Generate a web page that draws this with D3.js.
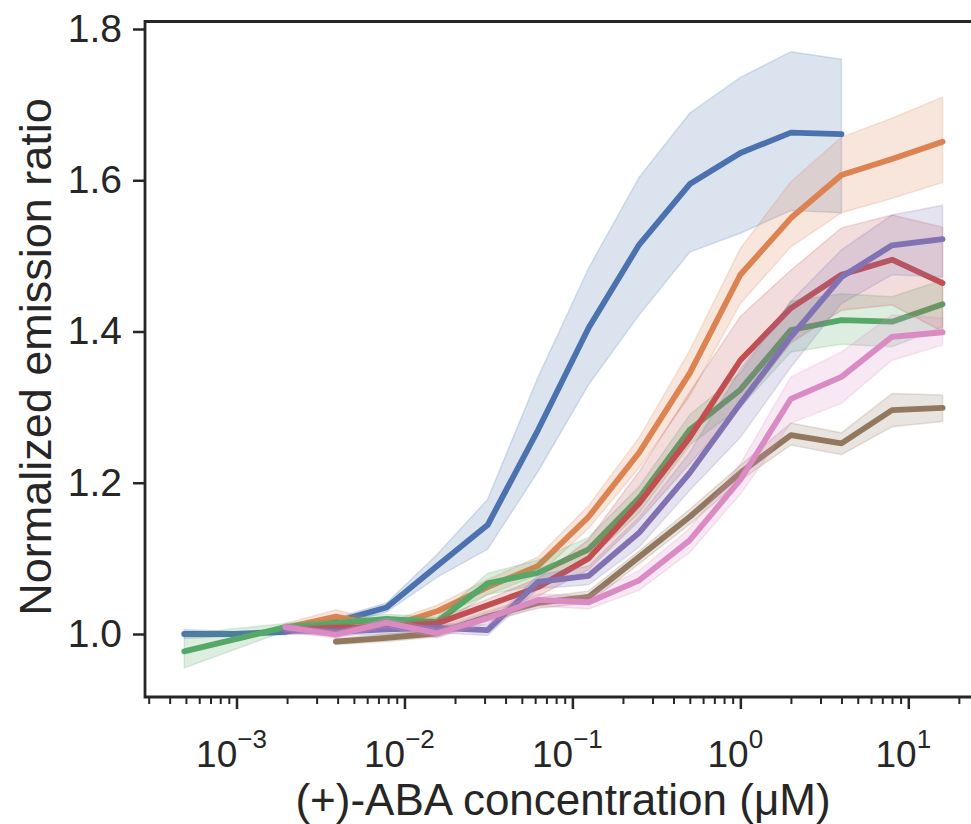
<!DOCTYPE html>
<html><head><meta charset="utf-8">
<script src="https://cdn.jsdelivr.net/npm/d3@7"></script>
<style>
body{margin:0;background:#fff}
svg{display:block}
text{font-family:"Liberation Sans",Arial,Helvetica,sans-serif;fill:#262626}
</style>
</head><body>
<svg id="chart" width="971" height="824"></svg>
<script>
// (+)-ABA concentrations (µM), two-fold dilution series
const concentrations = [0.00048828125, 0.0009765625, 0.001953125, 0.00390625, 0.0078125, 0.015625,
  0.03125, 0.0625, 0.125, 0.25, 0.5, 1, 2, 4, 8, 16];

const blueMean = [1.000, 1.000, 1.003, 1.016, 1.035, 1.090, 1.144, 1.270, 1.405, 1.515, 1.595, 1.636, 1.663, 1.661, null, null];
const blueLow  = [0.994, 0.997, 0.999, 1.011, 1.029, 1.075, 1.112, 1.215, 1.330, 1.422, 1.505, 1.530, 1.560, 1.557, null, null];
const blueHigh = [1.006, 1.003, 1.007, 1.021, 1.041, 1.105, 1.178, 1.340, 1.484, 1.604, 1.689, 1.736, 1.770, 1.760, null, null];

const orangeMean = [null, null, 1.008, 1.023, 1.009, 1.030, 1.062, 1.090, 1.155, 1.240, 1.345, 1.475, 1.550, 1.607, 1.628, 1.651];
const orangeLow  = [null, null, 1.002, 1.015, 1.003, 1.022, 1.052, 1.078, 1.140, 1.220, 1.315, 1.437, 1.512, 1.557, 1.576, 1.597];
const orangeHigh = [null, null, 1.014, 1.032, 1.015, 1.038, 1.072, 1.102, 1.170, 1.260, 1.375, 1.510, 1.598, 1.657, 1.682, 1.710];

const greenMean = [0.977, null, 1.009, 1.014, 1.020, 1.016, 1.067, 1.081, 1.112, 1.180, 1.270, 1.323, 1.402, 1.415, 1.413, 1.436];
const greenLow  = [0.955, null, 1.004, 1.008, 1.014, 1.010, 1.052, 1.065, 1.098, 1.160, 1.250, 1.300, 1.373, 1.383, 1.380, 1.406];
const greenHigh = [1.000, null, 1.014, 1.020, 1.026, 1.022, 1.080, 1.098, 1.128, 1.195, 1.290, 1.345, 1.440, 1.450, 1.446, 1.468];

const redMean = [null, null, 1.005, 1.008, 1.009, 1.014, 1.038, 1.062, 1.100, 1.173, 1.260, 1.362, 1.431, 1.475, 1.495, 1.464];
const redLow  = [null, null, 1.000, 1.003, 1.004, 1.008, 1.030, 1.050, 1.085, 1.150, 1.225, 1.300, 1.385, 1.428, 1.435, 1.400];
const redHigh = [null, null, 1.010, 1.013, 1.014, 1.020, 1.046, 1.074, 1.125, 1.215, 1.320, 1.420, 1.481, 1.537, 1.554, 1.538];

const purpleMean = [null, null, 1.005, 1.003, 1.006, 1.008, 1.005, 1.069, 1.077, 1.134, 1.213, 1.305, 1.393, 1.472, 1.514, 1.522];
const purpleLow  = [null, null, 1.000, 0.998, 1.000, 1.002, 0.998, 1.060, 1.065, 1.115, 1.190, 1.260, 1.353, 1.437, 1.475, 1.472];
const purpleHigh = [null, null, 1.010, 1.008, 1.012, 1.014, 1.012, 1.078, 1.090, 1.155, 1.240, 1.350, 1.440, 1.508, 1.554, 1.567];

const brownMean = [null, null, null, 0.990, 0.995, 1.001, 1.023, 1.041, 1.049, 1.102, 1.155, 1.213, 1.263, 1.252, 1.296, 1.299];
const brownLow  = [null, null, null, 0.986, 0.990, 0.996, 1.017, 1.034, 1.041, 1.093, 1.145, 1.203, 1.250, 1.237, 1.274, 1.281];
const brownHigh = [null, null, null, 0.994, 1.000, 1.006, 1.029, 1.048, 1.057, 1.110, 1.165, 1.223, 1.279, 1.266, 1.318, 1.316];

const pinkMean = [null, null, 1.009, 0.999, 1.015, 1.001, 1.021, 1.045, 1.042, 1.071, 1.124, 1.204, 1.311, 1.340, 1.393, 1.399];
const pinkLow  = [null, null, 1.004, 0.994, 1.009, 0.995, 1.014, 1.037, 1.033, 1.058, 1.108, 1.185, 1.279, 1.305, 1.362, 1.382];
const pinkHigh = [null, null, 1.014, 1.004, 1.021, 1.007, 1.028, 1.053, 1.051, 1.084, 1.140, 1.225, 1.340, 1.373, 1.422, 1.418];

const seriesColors = ["#4C72B0", "#DD8452", "#55A868", "#C44E52", "#8172B3", "#937860", "#DA8BC3"];
const yTicks = [1.0, 1.2, 1.4, 1.6, 1.8];
const xMajorTicks = [1e-3, 1e-2, 1e-1, 1e0, 1e1];
const xMajorExponents = ["\u22123", "\u22122", "\u22121", "0", "1"];
const xLabel = "(+)-ABA concentration (\u03BCM)";
const yLabel = "Normalized emission ratio";

const series = [
  [blueMean, blueLow, blueHigh], [orangeMean, orangeLow, orangeHigh], [greenMean, greenLow, greenHigh],
  [redMean, redLow, redHigh], [purpleMean, purpleLow, purpleHigh], [brownMean, brownLow, brownHigh],
  [pinkMean, pinkLow, pinkHigh]
].map((s, i) => ({
  color: seriesColors[i],
  pts: concentrations.map((c, k) => ({c, v: s[0][k], lo: s[1][k], hi: s[2][k]})).filter(d => d.v != null)
}));

const L = 145, T = 21.5, B = 697, R = 990;
const svg = d3.select("#chart");
const x = d3.scaleLog().domain([1e-3, 10]).range([236.5, 908.3]);
const y = d3.scaleLinear().domain([1.0, 1.8]).range([634, 29]);
const xs = x.copy().domain([x.invert(L), x.invert(R)]).range([L, R]);

svg.append("clipPath").attr("id", "clip").append("rect")
  .attr("x", L).attr("y", T).attr("width", R - L).attr("height", B - T);

const plot = svg.append("g").attr("clip-path", "url(#clip)");
const line = d3.line().x(d => x(d.c)).y(d => y(d.v));
const area = d3.area().x(d => x(d.c)).y0(d => y(d.lo)).y1(d => y(d.hi));

series.forEach(s => {
  plot.append("path").datum(s.pts).attr("d", line)
    .attr("fill", "none").attr("stroke", s.color).attr("stroke-width", 5.8)
    .attr("stroke-linecap", "round").attr("stroke-linejoin", "round");
  plot.append("path").datum(s.pts).attr("d", area)
    .attr("fill", s.color).attr("fill-opacity", 0.2)
    .attr("stroke", s.color).attr("stroke-opacity", 0.2).attr("stroke-width", 1.5);
});

// minor ticks
const minor = [];
for (let e = -4; e <= 1; e++) for (let m = 2; m <= 9; m++) {
  const v = m * Math.pow(10, e);
  if (xs(v) >= L && xs(v) <= R) minor.push(v);
}
const gx = svg.append("g").attr("transform", `translate(0,${B})`);
gx.call(d3.axisBottom(xs).tickValues(minor).tickSize(7).tickFormat(""))
  .call(g => g.select(".domain").remove())
  .call(g => g.selectAll("line").attr("stroke", "#262626").attr("stroke-width", 2));
const gx2 = svg.append("g").attr("transform", `translate(0,${B})`);
gx2.call(d3.axisBottom(xs).tickValues(xMajorTicks).tickSize(12).tickFormat(""))
  .call(g => g.select(".domain").remove())
  .call(g => g.selectAll("line").attr("stroke", "#262626").attr("stroke-width", 2.5));

xMajorTicks.forEach((v, i) => {
  const t = svg.append("text").attr("x", xs(v) - 5).attr("y", 767)
    .attr("text-anchor", "middle").attr("font-size", 37);
  t.append("tspan").text("10");
  t.append("tspan").attr("font-size", 26).attr("dy", -19).text(xMajorExponents[i]);
});

const gy = svg.append("g").attr("transform", `translate(${L},0)`);
gy.call(d3.axisLeft(y).tickValues(yTicks).tickFormat(d3.format(".1f")).tickSize(12).tickPadding(11))
  .call(g => g.select(".domain").remove())
  .call(g => g.selectAll("line").attr("stroke", "#262626").attr("stroke-width", 2.5))
  .call(g => g.selectAll("text").attr("font-size", 39).attr("fill", "#262626").attr("font-family", "Liberation Sans, Arial, sans-serif"));

// spines
svg.append("path").attr("d", `M${R},${T}H${L}V${B}H${R}`)
  .attr("fill", "none").attr("stroke", "#262626").attr("stroke-width", 2.8);

svg.append("text").attr("x", 563).attr("y", 815).attr("text-anchor", "middle")
  .attr("font-size", 44).text(xLabel);
svg.append("text").attr("transform", "translate(51,357) rotate(-90)").attr("text-anchor", "middle")
  .attr("font-size", 45).text(yLabel);
</script>
</body></html>
